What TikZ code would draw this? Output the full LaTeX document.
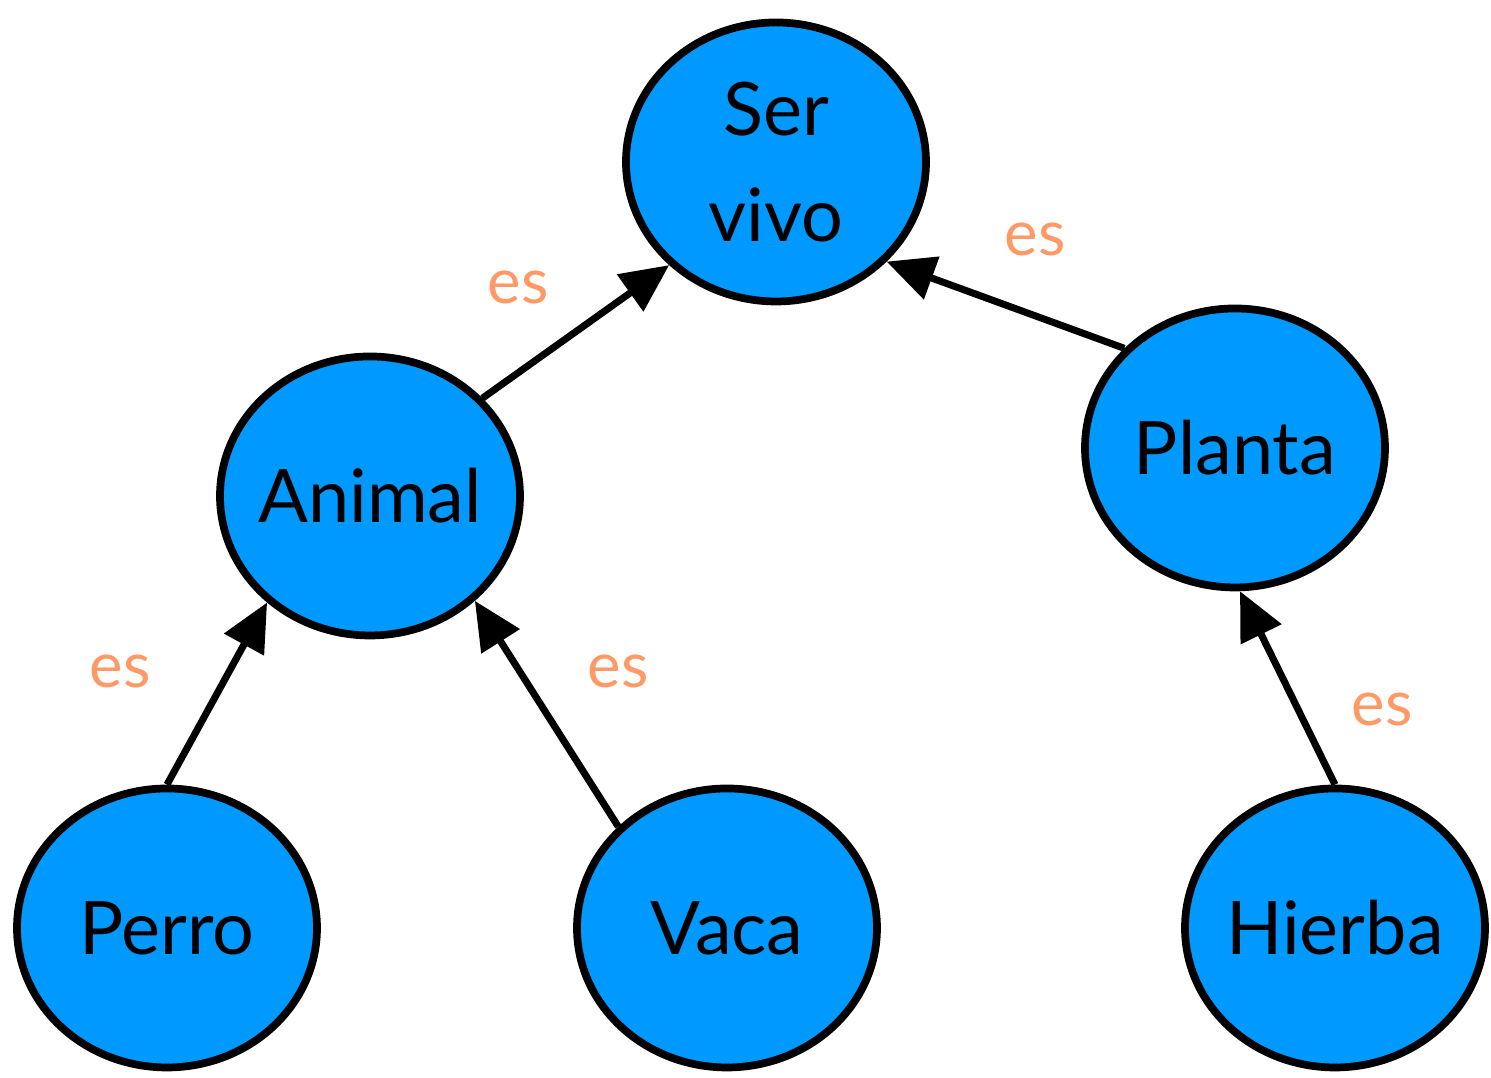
\documentclass[tikz,border=0pt]{standalone}
\usepackage{fontspec}
\setmainfont{Lato}
\usetikzlibrary{shapes.geometric,arrows.meta}
\definecolor{nodoazul}{HTML}{0099FF}
\definecolor{esnaranja}{HTML}{FF9966}
\begin{document}
\begin{tikzpicture}[x=1cm,y=1cm,
    concepto/.style={ellipse,draw=black,fill=nodoazul,line width=2.2pt,
      minimum width=3.0cm,minimum height=2.79cm,inner sep=0pt},
    texto/.style={align=center,font=\fontsize{21}{30}\selectfont},
    relacion/.style={text=esnaranja,font=\fontsize{18}{22}\selectfont},
    flecha/.style={line width=2pt,-{Triangle[length=0.48cm,width=0.44cm]}},
  ]
\useasboundingbox (0,0) rectangle (14.91,10.78);
\node[concepto,label={[texto]center:Ser\\vivo}] (servivo) at (7.76,9.16) {};
\node[concepto,label={[texto]center:Animal}] (animal) at (3.70,5.82) {};
\node[concepto,label={[texto]center:Planta}] (planta) at (12.35,6.30) {};
\node[concepto,label={[texto]center:Perro}] (perro) at (1.67,1.50) {};
\node[concepto,label={[texto]center:Vaca}] (vaca) at (7.27,1.50) {};
\node[concepto,label={[texto]center:Hierba}] (hierba) at (13.35,1.50) {};
% relaciones "es"
\draw[flecha] (animal.41) -- (servivo.224);
\draw[flecha] (planta.138) -- (servivo.318);
\draw[flecha] (perro.90) -- (animal.226);
\draw[flecha] (vaca.137) -- (animal.315);
\draw[flecha] (hierba.90) -- (planta.272);
\node[relacion] (es1) at (5.18,7.90) {es};
\node[relacion] (es2) at (10.35,8.38) {es};
\node[relacion] (es3) at (1.20,4.06) {es};
\node[relacion] (es4) at (6.18,4.06) {es};
\node[relacion] (es5) at (13.82,3.68) {es};
\end{tikzpicture}
\end{document}
